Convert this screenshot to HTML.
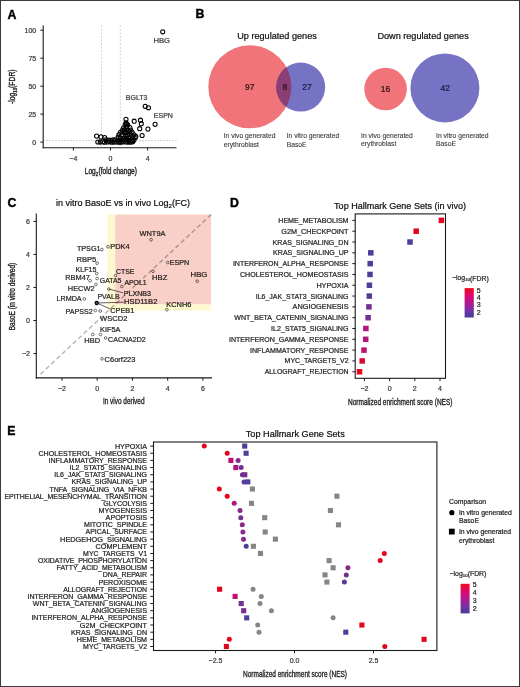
<!DOCTYPE html>
<html><head><meta charset="utf-8"><style>
html,body{margin:0;padding:0;background:#fff;}
body{width:520px;height:687px;overflow:hidden;}
svg{display:block;font-family:'Liberation Sans', sans-serif;color:#262626;}
text{stroke:currentColor;stroke-width:0.22px;}
</style></head><body>
<svg width="520" height="687" viewBox="0 0 520 687">
<rect x="0" y="0" width="520" height="687" fill="#fff"/>
<text x="7.60" y="18.50" font-size="12.3" text-anchor="start" fill="#000" color="#000" font-weight="bold" style="stroke-width:0.4px">A</text>
<text x="195.60" y="18.40" font-size="12.3" text-anchor="start" fill="#000" color="#000" font-weight="bold" style="stroke-width:0.4px">B</text>
<text x="7.40" y="206.90" font-size="12.3" text-anchor="start" fill="#000" color="#000" font-weight="bold" style="stroke-width:0.4px">C</text>
<text x="229.90" y="206.90" font-size="12.3" text-anchor="start" fill="#000" color="#000" font-weight="bold" style="stroke-width:0.4px">D</text>
<text x="7.20" y="434.90" font-size="12.3" text-anchor="start" fill="#000" color="#000" font-weight="bold" style="stroke-width:0.4px">E</text>
<line x1="101.50" y1="25.50" x2="101.50" y2="147.70" stroke="#c4c4c4" stroke-width="0.8" stroke-dasharray="1.8 1.7"/>
<line x1="120.30" y1="25.50" x2="120.30" y2="147.70" stroke="#c4c4c4" stroke-width="0.8" stroke-dasharray="1.8 1.7"/>
<line x1="43.20" y1="140.60" x2="176.50" y2="140.60" stroke="#c0c0c0" stroke-width="0.9" stroke-dasharray="1.6 1.4"/>
<circle cx="162.70" cy="31.80" r="2.05" fill="none" stroke="#000" stroke-width="1.05"/>
<circle cx="145.20" cy="106.30" r="2.05" fill="none" stroke="#000" stroke-width="1.05"/>
<circle cx="148.50" cy="107.80" r="2.05" fill="none" stroke="#000" stroke-width="1.05"/>
<circle cx="155.10" cy="124.30" r="2.05" fill="none" stroke="#000" stroke-width="1.05"/>
<circle cx="147.90" cy="129.10" r="2.05" fill="none" stroke="#000" stroke-width="1.05"/>
<circle cx="139.70" cy="128.70" r="2.05" fill="none" stroke="#000" stroke-width="1.05"/>
<circle cx="141.30" cy="123.70" r="2.05" fill="none" stroke="#000" stroke-width="1.05"/>
<circle cx="140.50" cy="120.20" r="2.05" fill="none" stroke="#000" stroke-width="1.05"/>
<circle cx="134.20" cy="121.20" r="2.05" fill="none" stroke="#000" stroke-width="1.05"/>
<circle cx="126.00" cy="119.30" r="2.05" fill="none" stroke="#000" stroke-width="1.05"/>
<circle cx="126.60" cy="124.00" r="2.05" fill="none" stroke="#000" stroke-width="1.05"/>
<circle cx="142.10" cy="135.50" r="2.05" fill="none" stroke="#000" stroke-width="1.05"/>
<circle cx="135.80" cy="136.30" r="2.05" fill="none" stroke="#000" stroke-width="1.05"/>
<circle cx="96.60" cy="136.10" r="2.05" fill="none" stroke="#000" stroke-width="1.05"/>
<circle cx="101.00" cy="136.90" r="2.05" fill="none" stroke="#000" stroke-width="1.05"/>
<circle cx="104.70" cy="137.50" r="2.05" fill="none" stroke="#000" stroke-width="1.05"/>
<circle cx="131.90" cy="141.20" r="2.05" fill="none" stroke="#000" stroke-width="1.05"/>
<circle cx="97.84" cy="142.03" r="2.05" fill="none" stroke="#000" stroke-width="1.05"/>
<circle cx="100.22" cy="142.06" r="2.05" fill="none" stroke="#000" stroke-width="1.05"/>
<circle cx="102.68" cy="141.74" r="2.05" fill="none" stroke="#000" stroke-width="1.05"/>
<circle cx="104.61" cy="142.20" r="2.05" fill="none" stroke="#000" stroke-width="1.05"/>
<circle cx="105.86" cy="139.84" r="2.05" fill="none" stroke="#000" stroke-width="1.05"/>
<circle cx="107.50" cy="141.98" r="2.05" fill="none" stroke="#000" stroke-width="1.05"/>
<circle cx="108.50" cy="139.99" r="2.05" fill="none" stroke="#000" stroke-width="1.05"/>
<circle cx="109.58" cy="141.79" r="2.05" fill="none" stroke="#000" stroke-width="1.05"/>
<circle cx="110.68" cy="140.22" r="2.05" fill="none" stroke="#000" stroke-width="1.05"/>
<circle cx="111.81" cy="142.14" r="2.05" fill="none" stroke="#000" stroke-width="1.05"/>
<circle cx="113.00" cy="139.74" r="2.05" fill="none" stroke="#000" stroke-width="1.05"/>
<circle cx="114.25" cy="142.05" r="2.05" fill="none" stroke="#000" stroke-width="1.05"/>
<circle cx="115.08" cy="139.72" r="2.05" fill="none" stroke="#000" stroke-width="1.05"/>
<circle cx="116.62" cy="141.98" r="2.05" fill="none" stroke="#000" stroke-width="1.05"/>
<circle cx="117.63" cy="140.23" r="2.05" fill="none" stroke="#000" stroke-width="1.05"/>
<circle cx="118.83" cy="142.25" r="2.05" fill="none" stroke="#000" stroke-width="1.05"/>
<circle cx="119.74" cy="140.18" r="2.05" fill="none" stroke="#000" stroke-width="1.05"/>
<circle cx="120.97" cy="142.26" r="2.05" fill="none" stroke="#000" stroke-width="1.05"/>
<circle cx="122.33" cy="139.76" r="2.05" fill="none" stroke="#000" stroke-width="1.05"/>
<circle cx="123.08" cy="141.83" r="2.05" fill="none" stroke="#000" stroke-width="1.05"/>
<circle cx="124.68" cy="139.96" r="2.05" fill="none" stroke="#000" stroke-width="1.05"/>
<circle cx="125.68" cy="141.88" r="2.05" fill="none" stroke="#000" stroke-width="1.05"/>
<circle cx="126.70" cy="139.93" r="2.05" fill="none" stroke="#000" stroke-width="1.05"/>
<circle cx="127.81" cy="142.05" r="2.05" fill="none" stroke="#000" stroke-width="1.05"/>
<circle cx="129.05" cy="140.24" r="2.05" fill="none" stroke="#000" stroke-width="1.05"/>
<circle cx="130.31" cy="142.26" r="2.05" fill="none" stroke="#000" stroke-width="1.05"/>
<circle cx="131.51" cy="140.29" r="2.05" fill="none" stroke="#000" stroke-width="1.05"/>
<circle cx="132.60" cy="141.80" r="2.05" fill="none" stroke="#000" stroke-width="1.05"/>
<circle cx="133.82" cy="140.28" r="2.05" fill="none" stroke="#000" stroke-width="1.05"/>
<circle cx="126.09" cy="122.80" r="2.05" fill="none" stroke="#000" stroke-width="1.05"/>
<circle cx="125.15" cy="124.53" r="2.05" fill="none" stroke="#000" stroke-width="1.05"/>
<circle cx="127.65" cy="124.91" r="2.05" fill="none" stroke="#000" stroke-width="1.05"/>
<circle cx="123.53" cy="127.72" r="2.05" fill="none" stroke="#000" stroke-width="1.05"/>
<circle cx="126.24" cy="127.30" r="2.05" fill="none" stroke="#000" stroke-width="1.05"/>
<circle cx="129.88" cy="127.52" r="2.05" fill="none" stroke="#000" stroke-width="1.05"/>
<circle cx="122.36" cy="130.24" r="2.05" fill="none" stroke="#000" stroke-width="1.05"/>
<circle cx="124.57" cy="129.56" r="2.05" fill="none" stroke="#000" stroke-width="1.05"/>
<circle cx="128.13" cy="130.46" r="2.05" fill="none" stroke="#000" stroke-width="1.05"/>
<circle cx="130.60" cy="129.96" r="2.05" fill="none" stroke="#000" stroke-width="1.05"/>
<circle cx="120.51" cy="132.22" r="2.05" fill="none" stroke="#000" stroke-width="1.05"/>
<circle cx="123.90" cy="132.24" r="2.05" fill="none" stroke="#000" stroke-width="1.05"/>
<circle cx="126.19" cy="132.44" r="2.05" fill="none" stroke="#000" stroke-width="1.05"/>
<circle cx="129.60" cy="132.10" r="2.05" fill="none" stroke="#000" stroke-width="1.05"/>
<circle cx="132.12" cy="132.33" r="2.05" fill="none" stroke="#000" stroke-width="1.05"/>
<circle cx="118.98" cy="134.62" r="2.05" fill="none" stroke="#000" stroke-width="1.05"/>
<circle cx="122.18" cy="134.69" r="2.05" fill="none" stroke="#000" stroke-width="1.05"/>
<circle cx="125.36" cy="135.34" r="2.05" fill="none" stroke="#000" stroke-width="1.05"/>
<circle cx="127.63" cy="134.78" r="2.05" fill="none" stroke="#000" stroke-width="1.05"/>
<circle cx="131.16" cy="135.14" r="2.05" fill="none" stroke="#000" stroke-width="1.05"/>
<circle cx="134.06" cy="134.85" r="2.05" fill="none" stroke="#000" stroke-width="1.05"/>
<circle cx="118.22" cy="137.16" r="2.05" fill="none" stroke="#000" stroke-width="1.05"/>
<circle cx="120.20" cy="137.94" r="2.05" fill="none" stroke="#000" stroke-width="1.05"/>
<circle cx="123.98" cy="137.99" r="2.05" fill="none" stroke="#000" stroke-width="1.05"/>
<circle cx="126.43" cy="137.95" r="2.05" fill="none" stroke="#000" stroke-width="1.05"/>
<circle cx="129.83" cy="137.22" r="2.05" fill="none" stroke="#000" stroke-width="1.05"/>
<circle cx="132.55" cy="137.84" r="2.05" fill="none" stroke="#000" stroke-width="1.05"/>
<circle cx="135.36" cy="137.52" r="2.05" fill="none" stroke="#000" stroke-width="1.05"/>
<line x1="43.20" y1="25.50" x2="43.20" y2="148.25" stroke="#1a1a1a" stroke-width="1.1"/>
<line x1="42.65" y1="147.70" x2="176.50" y2="147.70" stroke="#1a1a1a" stroke-width="1.1"/>
<line x1="40.30" y1="142.10" x2="43.20" y2="142.10" stroke="#1a1a1a" stroke-width="1.0"/>
<text x="36.20" y="142.10" font-size="7" text-anchor="end" fill="#3a3a3a" color="#3a3a3a" dominant-baseline="central">0</text>
<line x1="40.30" y1="114.12" x2="43.20" y2="114.12" stroke="#1a1a1a" stroke-width="1.0"/>
<text x="36.20" y="114.12" font-size="7" text-anchor="end" fill="#3a3a3a" color="#3a3a3a" dominant-baseline="central">25</text>
<line x1="40.30" y1="86.15" x2="43.20" y2="86.15" stroke="#1a1a1a" stroke-width="1.0"/>
<text x="36.20" y="86.15" font-size="7" text-anchor="end" fill="#3a3a3a" color="#3a3a3a" dominant-baseline="central">50</text>
<line x1="40.30" y1="58.17" x2="43.20" y2="58.17" stroke="#1a1a1a" stroke-width="1.0"/>
<text x="36.20" y="58.17" font-size="7" text-anchor="end" fill="#3a3a3a" color="#3a3a3a" dominant-baseline="central">75</text>
<line x1="40.30" y1="30.20" x2="43.20" y2="30.20" stroke="#1a1a1a" stroke-width="1.0"/>
<text x="36.20" y="30.20" font-size="7" text-anchor="end" fill="#3a3a3a" color="#3a3a3a" dominant-baseline="central">100</text>
<line x1="73.35" y1="147.70" x2="73.35" y2="150.50" stroke="#1a1a1a" stroke-width="1.0"/>
<text x="73.35" y="158.00" font-size="7" text-anchor="middle" fill="#3a3a3a" color="#3a3a3a" dominant-baseline="central">−4</text>
<line x1="110.50" y1="147.70" x2="110.50" y2="150.50" stroke="#1a1a1a" stroke-width="1.0"/>
<text x="110.50" y="158.00" font-size="7" text-anchor="middle" fill="#3a3a3a" color="#3a3a3a" dominant-baseline="central">0</text>
<line x1="147.65" y1="147.70" x2="147.65" y2="150.50" stroke="#1a1a1a" stroke-width="1.0"/>
<text x="147.65" y="158.00" font-size="7" text-anchor="middle" fill="#3a3a3a" color="#3a3a3a" dominant-baseline="central">4</text>
<text x="153.40" y="40.20" font-size="7.4" text-anchor="start" fill="#3a3a3a" color="#3a3a3a" dominant-baseline="central" textLength="16.50" lengthAdjust="spacingAndGlyphs">HBG</text>
<text x="125.80" y="97.40" font-size="7" text-anchor="start" fill="#3a3a3a" color="#3a3a3a" dominant-baseline="central">BGLT3</text>
<text x="153.80" y="115.70" font-size="7" text-anchor="start" fill="#3a3a3a" color="#3a3a3a" dominant-baseline="central">ESPN</text>
<g transform="translate(84.8,174.1) scale(0.7476,1)"><text x="0" y="0" font-size="8.8" fill="#262626" style="stroke-width:0.4px">Log<tspan font-size="5.6" dy="2.0">2</tspan><tspan dy="-2.0" dx="0.7">(fold change)</tspan></text></g>
<g transform="translate(14.9,104.0) rotate(-90) scale(0.7715,1)"><text x="0" y="0" font-size="8.8" fill="#262626" style="stroke-width:0.4px">-log<tspan font-size="5.6" dy="2.0">10</tspan><tspan dy="-2.0">(FDR)</tspan></text></g>
<text x="237.20" y="38.60" font-size="9.15" text-anchor="start" fill="#111" color="#111">Up regulated genes</text>
<text x="377.40" y="38.80" font-size="9.13" text-anchor="start" fill="#111" color="#111">Down regulated genes</text>
<circle cx="249.8" cy="86.8" r="41.5" fill="#f07479"/>
<circle cx="300.7" cy="87.1" r="24.5" fill="#7672c4"/>
<defs><clipPath id="cpb"><circle cx="300.7" cy="87.1" r="24.5"/></clipPath></defs>
<circle cx="249.8" cy="86.8" r="41.5" fill="#8a3e74" clip-path="url(#cpb)"/>
<circle cx="385.6" cy="89.0" r="21.3" fill="#f07479"/>
<circle cx="444.9" cy="87.9" r="34.5" fill="#7672c4"/>
<text x="249.80" y="87.10" font-size="8.5" text-anchor="middle" fill="#2a1216" color="#2a1216" dominant-baseline="central">97</text>
<text x="284.80" y="87.00" font-size="8.5" text-anchor="middle" fill="#2a0f22" color="#2a0f22" dominant-baseline="central">8</text>
<text x="306.90" y="87.00" font-size="8.5" text-anchor="middle" fill="#1c1c46" color="#1c1c46" dominant-baseline="central">27</text>
<text x="385.50" y="88.50" font-size="8.5" text-anchor="middle" fill="#2a1216" color="#2a1216" dominant-baseline="central">16</text>
<text x="445.20" y="88.00" font-size="8.5" text-anchor="middle" fill="#1c1c46" color="#1c1c46" dominant-baseline="central">42</text>
<text x="223.70" y="138.30" font-size="6.75" text-anchor="start" fill="#3a3a3a" color="#3a3a3a" style="stroke-width:0.1px">In vivo generated</text>
<text x="223.70" y="147.30" font-size="6.75" text-anchor="start" fill="#3a3a3a" color="#3a3a3a" style="stroke-width:0.1px">erythroblast</text>
<text x="286.70" y="138.30" font-size="6.75" text-anchor="start" fill="#3a3a3a" color="#3a3a3a" style="stroke-width:0.1px">In vitro generated</text>
<text x="286.70" y="147.30" font-size="6.75" text-anchor="start" fill="#3a3a3a" color="#3a3a3a" style="stroke-width:0.1px">BasoE</text>
<text x="361.00" y="137.80" font-size="6.75" text-anchor="start" fill="#3a3a3a" color="#3a3a3a" style="stroke-width:0.1px">In vivo generated</text>
<text x="361.00" y="146.00" font-size="6.75" text-anchor="start" fill="#3a3a3a" color="#3a3a3a" style="stroke-width:0.1px">erythroblast</text>
<text x="436.00" y="137.80" font-size="6.75" text-anchor="start" fill="#3a3a3a" color="#3a3a3a" style="stroke-width:0.1px">In vitro generated</text>
<text x="436.00" y="146.00" font-size="6.75" text-anchor="start" fill="#3a3a3a" color="#3a3a3a" style="stroke-width:0.1px">BasoE</text>
<text x="56.00" y="206.30" font-size="9" text-anchor="start" fill="#111" color="#111">in vitro BasoE vs in vivo Log<tspan font-size="6.2" dy="2">2</tspan><tspan dy="-2">(FC)</tspan></text>
<line x1="40.40" y1="374.20" x2="212.30" y2="213.50" stroke="#b8b8b8" stroke-width="1.5" stroke-dasharray="4.6 2.8"/>
<circle cx="108.00" cy="246.80" r="1.35" fill="none" stroke="#3a3a3a" stroke-width="0.7"/>
<circle cx="101.90" cy="249.60" r="1.35" fill="none" stroke="#3a3a3a" stroke-width="0.7"/>
<circle cx="97.10" cy="263.20" r="1.35" fill="none" stroke="#3a3a3a" stroke-width="0.7"/>
<circle cx="96.70" cy="273.60" r="1.35" fill="none" stroke="#3a3a3a" stroke-width="0.7"/>
<circle cx="90.20" cy="280.70" r="1.35" fill="none" stroke="#3a3a3a" stroke-width="0.7"/>
<circle cx="97.10" cy="278.50" r="1.35" fill="none" stroke="#3a3a3a" stroke-width="0.7"/>
<circle cx="95.90" cy="284.50" r="1.35" fill="none" stroke="#3a3a3a" stroke-width="0.7"/>
<circle cx="84.30" cy="298.90" r="1.35" fill="none" stroke="#3a3a3a" stroke-width="0.7"/>
<circle cx="108.80" cy="289.10" r="1.35" fill="none" stroke="#3a3a3a" stroke-width="0.7"/>
<circle cx="95.30" cy="310.50" r="1.35" fill="none" stroke="#3a3a3a" stroke-width="0.7"/>
<circle cx="100.20" cy="311.00" r="1.35" fill="none" stroke="#3a3a3a" stroke-width="0.7"/>
<circle cx="92.80" cy="334.50" r="1.35" fill="none" stroke="#3a3a3a" stroke-width="0.7"/>
<circle cx="100.40" cy="334.50" r="1.35" fill="none" stroke="#3a3a3a" stroke-width="0.7"/>
<circle cx="105.70" cy="338.00" r="1.35" fill="none" stroke="#3a3a3a" stroke-width="0.7"/>
<circle cx="102.00" cy="358.80" r="1.35" fill="none" stroke="#3a3a3a" stroke-width="0.7"/>
<circle cx="115.60" cy="275.60" r="1.35" fill="none" stroke="#3a3a3a" stroke-width="0.7"/>
<circle cx="121.90" cy="286.50" r="1.35" fill="none" stroke="#3a3a3a" stroke-width="0.7"/>
<circle cx="151.10" cy="239.70" r="1.35" fill="none" stroke="#3a3a3a" stroke-width="0.7"/>
<circle cx="153.00" cy="271.30" r="1.35" fill="none" stroke="#3a3a3a" stroke-width="0.7"/>
<circle cx="167.70" cy="262.50" r="1.35" fill="none" stroke="#3a3a3a" stroke-width="0.7"/>
<circle cx="197.20" cy="281.20" r="1.35" fill="none" stroke="#3a3a3a" stroke-width="0.7"/>
<circle cx="166.90" cy="309.70" r="1.35" fill="none" stroke="#3a3a3a" stroke-width="0.7"/>
<circle cx="96.70" cy="303.00" r="1.60" fill="#666" stroke="#000" stroke-width="1.2"/>
<line x1="108.80" y1="289.10" x2="123.10" y2="292.80" stroke="#222" stroke-width="0.7"/>
<line x1="96.70" y1="303.00" x2="124.00" y2="302.20" stroke="#222" stroke-width="0.7"/>
<line x1="96.70" y1="303.00" x2="110.50" y2="309.00" stroke="#222" stroke-width="0.7"/>
<text x="76.90" y="248.70" font-size="7.1" text-anchor="start" fill="#262626" color="#262626" dominant-baseline="central" textLength="23.70" lengthAdjust="spacingAndGlyphs">TPSG1</text>
<text x="110.20" y="247.30" font-size="7.1" text-anchor="start" fill="#262626" color="#262626" dominant-baseline="central" textLength="19.50" lengthAdjust="spacingAndGlyphs">PDK4</text>
<text x="76.40" y="260.30" font-size="7.1" text-anchor="start" fill="#262626" color="#262626" dominant-baseline="central" textLength="19.90" lengthAdjust="spacingAndGlyphs">RBP5</text>
<text x="75.60" y="270.00" font-size="7.1" text-anchor="start" fill="#262626" color="#262626" dominant-baseline="central" textLength="20.70" lengthAdjust="spacingAndGlyphs">KLF15</text>
<text x="65.20" y="277.50" font-size="7.1" text-anchor="start" fill="#262626" color="#262626" dominant-baseline="central" textLength="24.70" lengthAdjust="spacingAndGlyphs">RBM47</text>
<text x="99.80" y="281.00" font-size="7.1" text-anchor="start" fill="#262626" color="#262626" dominant-baseline="central" textLength="21.60" lengthAdjust="spacingAndGlyphs">GATA5</text>
<text x="67.80" y="289.00" font-size="7.1" text-anchor="start" fill="#262626" color="#262626" dominant-baseline="central" textLength="26.70" lengthAdjust="spacingAndGlyphs">HECW2</text>
<text x="56.50" y="299.40" font-size="7.1" text-anchor="start" fill="#262626" color="#262626" dominant-baseline="central" textLength="25.10" lengthAdjust="spacingAndGlyphs">LRMDA</text>
<text x="97.40" y="297.10" font-size="7.1" text-anchor="start" fill="#262626" color="#262626" dominant-baseline="central" textLength="22.20" lengthAdjust="spacingAndGlyphs">PVALB</text>
<text x="123.80" y="293.60" font-size="7.1" text-anchor="start" fill="#262626" color="#262626" dominant-baseline="central" textLength="27.20" lengthAdjust="spacingAndGlyphs">PLXNB3</text>
<text x="124.00" y="302.00" font-size="7.1" text-anchor="start" fill="#262626" color="#262626" dominant-baseline="central" textLength="33.50" lengthAdjust="spacingAndGlyphs">HSD11B2</text>
<text x="110.30" y="310.50" font-size="7.1" text-anchor="start" fill="#262626" color="#262626" dominant-baseline="central" textLength="24.00" lengthAdjust="spacingAndGlyphs">CPEB1</text>
<text x="65.40" y="311.70" font-size="7.1" text-anchor="start" fill="#262626" color="#262626" dominant-baseline="central" textLength="27.30" lengthAdjust="spacingAndGlyphs">PAPSS2</text>
<text x="100.00" y="318.70" font-size="7.1" text-anchor="start" fill="#262626" color="#262626" dominant-baseline="central" textLength="27.40" lengthAdjust="spacingAndGlyphs">WSCD2</text>
<text x="100.00" y="330.20" font-size="7.1" text-anchor="start" fill="#262626" color="#262626" dominant-baseline="central" textLength="20.40" lengthAdjust="spacingAndGlyphs">KIF5A</text>
<text x="84.30" y="340.50" font-size="7.1" text-anchor="start" fill="#262626" color="#262626" dominant-baseline="central" textLength="15.80" lengthAdjust="spacingAndGlyphs">HBD</text>
<text x="108.10" y="339.70" font-size="7.1" text-anchor="start" fill="#262626" color="#262626" dominant-baseline="central" textLength="37.70" lengthAdjust="spacingAndGlyphs">CACNA2D2</text>
<text x="104.60" y="359.90" font-size="7.1" text-anchor="start" fill="#262626" color="#262626" dominant-baseline="central" textLength="30.80" lengthAdjust="spacingAndGlyphs">C6orf223</text>
<text x="116.10" y="272.00" font-size="7.1" text-anchor="start" fill="#262626" color="#262626" dominant-baseline="central" textLength="18.30" lengthAdjust="spacingAndGlyphs">CTSE</text>
<text x="124.40" y="283.00" font-size="7.1" text-anchor="start" fill="#262626" color="#262626" dominant-baseline="central" textLength="22.30" lengthAdjust="spacingAndGlyphs">APOL1</text>
<text x="139.60" y="234.20" font-size="7.1" text-anchor="start" fill="#262626" color="#262626" dominant-baseline="central" textLength="25.80" lengthAdjust="spacingAndGlyphs">WNT9A</text>
<text x="152.10" y="277.80" font-size="7.1" text-anchor="start" fill="#262626" color="#262626" dominant-baseline="central" textLength="15.20" lengthAdjust="spacingAndGlyphs">HBZ</text>
<text x="169.80" y="263.00" font-size="7.1" text-anchor="start" fill="#262626" color="#262626" dominant-baseline="central" textLength="19.40" lengthAdjust="spacingAndGlyphs">ESPN</text>
<text x="190.50" y="275.20" font-size="7.1" text-anchor="start" fill="#262626" color="#262626" dominant-baseline="central" textLength="16.90" lengthAdjust="spacingAndGlyphs">HBG</text>
<text x="166.30" y="305.00" font-size="7.1" text-anchor="start" fill="#262626" color="#262626" dominant-baseline="central" textLength="25.10" lengthAdjust="spacingAndGlyphs">KCNH6</text>
<g style="mix-blend-mode:multiply">
<rect x="107.40" y="214.60" width="103.60" height="96.00" fill="#fdf8d0"/>
<rect x="115.30" y="214.60" width="95.70" height="89.60" fill="#f9d0c8"/>
</g>
<line x1="36.30" y1="213.60" x2="36.30" y2="378.45" stroke="#1a1a1a" stroke-width="1.1"/>
<line x1="35.75" y1="377.90" x2="212.00" y2="377.90" stroke="#1a1a1a" stroke-width="1.1"/>
<line x1="33.40" y1="353.54" x2="36.30" y2="353.54" stroke="#1a1a1a" stroke-width="1.0"/>
<text x="30.00" y="353.54" font-size="7" text-anchor="end" fill="#3a3a3a" color="#3a3a3a" dominant-baseline="central">−2</text>
<line x1="61.96" y1="377.90" x2="61.96" y2="380.70" stroke="#1a1a1a" stroke-width="1.0"/>
<text x="61.96" y="388.80" font-size="7" text-anchor="middle" fill="#3a3a3a" color="#3a3a3a" dominant-baseline="central">−2</text>
<line x1="33.40" y1="320.50" x2="36.30" y2="320.50" stroke="#1a1a1a" stroke-width="1.0"/>
<text x="30.00" y="320.50" font-size="7" text-anchor="end" fill="#3a3a3a" color="#3a3a3a" dominant-baseline="central">0</text>
<line x1="97.20" y1="377.90" x2="97.20" y2="380.70" stroke="#1a1a1a" stroke-width="1.0"/>
<text x="97.20" y="388.80" font-size="7" text-anchor="middle" fill="#3a3a3a" color="#3a3a3a" dominant-baseline="central">0</text>
<line x1="33.40" y1="287.46" x2="36.30" y2="287.46" stroke="#1a1a1a" stroke-width="1.0"/>
<text x="30.00" y="287.46" font-size="7" text-anchor="end" fill="#3a3a3a" color="#3a3a3a" dominant-baseline="central">2</text>
<line x1="132.44" y1="377.90" x2="132.44" y2="380.70" stroke="#1a1a1a" stroke-width="1.0"/>
<text x="132.44" y="388.80" font-size="7" text-anchor="middle" fill="#3a3a3a" color="#3a3a3a" dominant-baseline="central">2</text>
<line x1="33.40" y1="254.42" x2="36.30" y2="254.42" stroke="#1a1a1a" stroke-width="1.0"/>
<text x="30.00" y="254.42" font-size="7" text-anchor="end" fill="#3a3a3a" color="#3a3a3a" dominant-baseline="central">4</text>
<line x1="167.68" y1="377.90" x2="167.68" y2="380.70" stroke="#1a1a1a" stroke-width="1.0"/>
<text x="167.68" y="388.80" font-size="7" text-anchor="middle" fill="#3a3a3a" color="#3a3a3a" dominant-baseline="central">4</text>
<line x1="33.40" y1="221.38" x2="36.30" y2="221.38" stroke="#1a1a1a" stroke-width="1.0"/>
<text x="30.00" y="221.38" font-size="7" text-anchor="end" fill="#3a3a3a" color="#3a3a3a" dominant-baseline="central">6</text>
<line x1="202.92" y1="377.90" x2="202.92" y2="380.70" stroke="#1a1a1a" stroke-width="1.0"/>
<text x="202.92" y="388.80" font-size="7" text-anchor="middle" fill="#3a3a3a" color="#3a3a3a" dominant-baseline="central">6</text>
<text x="102.90" y="404.30" font-size="8.8" text-anchor="start" fill="#262626" color="#262626" textLength="41.60" lengthAdjust="spacingAndGlyphs" style="stroke-width:0.35px">In vivo derived</text>
<g transform="translate(15.2,330.2) rotate(-90)"><text x="0" y="0" font-size="8.8" fill="#262626" style="stroke-width:0.35px" textLength="67.4" lengthAdjust="spacingAndGlyphs">BasoE (in vitro derived)</text></g>
<text x="334.10" y="208.80" font-size="9.04" text-anchor="start" fill="#111" color="#111">Top Hallmark Gene Sets (in vivo)</text>
<text x="348.50" y="220.40" font-size="6.9" text-anchor="end" fill="#262626" color="#262626" dominant-baseline="central" textLength="70.20" lengthAdjust="spacingAndGlyphs">HEME_METABOLISM</text>
<line x1="352.30" y1="220.40" x2="355.20" y2="220.40" stroke="#1a1a1a" stroke-width="1.0"/>
<rect x="438.65" y="217.65" width="5.50" height="5.50" fill="#e3051b"/>
<text x="348.50" y="231.21" font-size="6.9" text-anchor="end" fill="#262626" color="#262626" dominant-baseline="central" textLength="67.20" lengthAdjust="spacingAndGlyphs">G2M_CHECKPOINT</text>
<line x1="352.30" y1="231.21" x2="355.20" y2="231.21" stroke="#1a1a1a" stroke-width="1.0"/>
<rect x="413.45" y="228.46" width="5.50" height="5.50" fill="#e3051b"/>
<text x="348.50" y="242.02" font-size="6.9" text-anchor="end" fill="#262626" color="#262626" dominant-baseline="central" textLength="75.90" lengthAdjust="spacingAndGlyphs">KRAS_SIGNALING_DN</text>
<line x1="352.30" y1="242.02" x2="355.20" y2="242.02" stroke="#1a1a1a" stroke-width="1.0"/>
<rect x="407.25" y="239.27" width="5.50" height="5.50" fill="#4e3e98"/>
<text x="348.50" y="252.83" font-size="6.9" text-anchor="end" fill="#262626" color="#262626" dominant-baseline="central" textLength="75.40" lengthAdjust="spacingAndGlyphs">KRAS_SIGNALING_UP</text>
<line x1="352.30" y1="252.83" x2="355.20" y2="252.83" stroke="#1a1a1a" stroke-width="1.0"/>
<rect x="368.05" y="250.08" width="5.50" height="5.50" fill="#4e3e98"/>
<text x="348.50" y="263.64" font-size="6.9" text-anchor="end" fill="#262626" color="#262626" dominant-baseline="central" textLength="115.60" lengthAdjust="spacingAndGlyphs">INTERFERON_ALPHA_RESPONSE</text>
<line x1="352.30" y1="263.64" x2="355.20" y2="263.64" stroke="#1a1a1a" stroke-width="1.0"/>
<rect x="367.45" y="260.89" width="5.50" height="5.50" fill="#4e3e98"/>
<text x="348.50" y="274.45" font-size="6.9" text-anchor="end" fill="#262626" color="#262626" dominant-baseline="central" textLength="108.60" lengthAdjust="spacingAndGlyphs">CHOLESTEROL_HOMEOSTASIS</text>
<line x1="352.30" y1="274.45" x2="355.20" y2="274.45" stroke="#1a1a1a" stroke-width="1.0"/>
<rect x="367.25" y="271.70" width="5.50" height="5.50" fill="#4e3e98"/>
<text x="348.50" y="285.26" font-size="6.9" text-anchor="end" fill="#262626" color="#262626" dominant-baseline="central" textLength="32.10" lengthAdjust="spacingAndGlyphs">HYPOXIA</text>
<line x1="352.30" y1="285.26" x2="355.20" y2="285.26" stroke="#1a1a1a" stroke-width="1.0"/>
<rect x="366.65" y="282.51" width="5.50" height="5.50" fill="#4e3e98"/>
<text x="348.50" y="296.07" font-size="6.9" text-anchor="end" fill="#262626" color="#262626" dominant-baseline="central" textLength="92.70" lengthAdjust="spacingAndGlyphs">IL6_JAK_STAT3_SIGNALING</text>
<line x1="352.30" y1="296.07" x2="355.20" y2="296.07" stroke="#1a1a1a" stroke-width="1.0"/>
<rect x="366.55" y="293.32" width="5.50" height="5.50" fill="#5a3996"/>
<text x="348.50" y="306.88" font-size="6.9" text-anchor="end" fill="#262626" color="#262626" dominant-baseline="central" textLength="55.90" lengthAdjust="spacingAndGlyphs">ANGIOGENESIS</text>
<line x1="352.30" y1="306.88" x2="355.20" y2="306.88" stroke="#1a1a1a" stroke-width="1.0"/>
<rect x="366.15" y="304.13" width="5.50" height="5.50" fill="#74308f"/>
<text x="348.50" y="317.69" font-size="6.9" text-anchor="end" fill="#262626" color="#262626" dominant-baseline="central" textLength="114.20" lengthAdjust="spacingAndGlyphs">WNT_BETA_CATENIN_SIGNALING</text>
<line x1="352.30" y1="317.69" x2="355.20" y2="317.69" stroke="#1a1a1a" stroke-width="1.0"/>
<rect x="365.35" y="314.94" width="5.50" height="5.50" fill="#74308f"/>
<text x="348.50" y="328.50" font-size="6.9" text-anchor="end" fill="#262626" color="#262626" dominant-baseline="central" textLength="77.40" lengthAdjust="spacingAndGlyphs">IL2_STAT5_SIGNALING</text>
<line x1="352.30" y1="328.50" x2="355.20" y2="328.50" stroke="#1a1a1a" stroke-width="1.0"/>
<rect x="363.15" y="325.75" width="5.50" height="5.50" fill="#b0167f"/>
<text x="348.50" y="339.31" font-size="6.9" text-anchor="end" fill="#262626" color="#262626" dominant-baseline="central" textLength="119.50" lengthAdjust="spacingAndGlyphs">INTERFERON_GAMMA_RESPONSE</text>
<line x1="352.30" y1="339.31" x2="355.20" y2="339.31" stroke="#1a1a1a" stroke-width="1.0"/>
<rect x="362.95" y="336.56" width="5.50" height="5.50" fill="#b0167f"/>
<text x="348.50" y="350.12" font-size="6.9" text-anchor="end" fill="#262626" color="#262626" dominant-baseline="central" textLength="98.50" lengthAdjust="spacingAndGlyphs">INFLAMMATORY_RESPONSE</text>
<line x1="352.30" y1="350.12" x2="355.20" y2="350.12" stroke="#1a1a1a" stroke-width="1.0"/>
<rect x="361.25" y="347.37" width="5.50" height="5.50" fill="#bf106f"/>
<text x="348.50" y="360.93" font-size="6.9" text-anchor="end" fill="#262626" color="#262626" dominant-baseline="central" textLength="63.90" lengthAdjust="spacingAndGlyphs">MYC_TARGETS_V2</text>
<line x1="352.30" y1="360.93" x2="355.20" y2="360.93" stroke="#1a1a1a" stroke-width="1.0"/>
<rect x="359.45" y="358.18" width="5.50" height="5.50" fill="#d80a34"/>
<text x="348.50" y="371.74" font-size="6.9" text-anchor="end" fill="#262626" color="#262626" dominant-baseline="central" textLength="83.80" lengthAdjust="spacingAndGlyphs">ALLOGRAFT_REJECTION</text>
<line x1="352.30" y1="371.74" x2="355.20" y2="371.74" stroke="#1a1a1a" stroke-width="1.0"/>
<rect x="356.75" y="368.99" width="5.50" height="5.50" fill="#e3051b"/>
<rect x="355.20" y="213.90" width="90.30" height="164.40" fill="none" stroke="#1a1a1a" stroke-width="1.1"/>
<line x1="364.40" y1="378.30" x2="364.40" y2="381.10" stroke="#1a1a1a" stroke-width="1.0"/>
<text x="364.40" y="388.70" font-size="7" text-anchor="middle" fill="#3a3a3a" color="#3a3a3a" dominant-baseline="central">−2</text>
<line x1="389.60" y1="378.30" x2="389.60" y2="381.10" stroke="#1a1a1a" stroke-width="1.0"/>
<text x="389.60" y="388.70" font-size="7" text-anchor="middle" fill="#3a3a3a" color="#3a3a3a" dominant-baseline="central">0</text>
<line x1="414.80" y1="378.30" x2="414.80" y2="381.10" stroke="#1a1a1a" stroke-width="1.0"/>
<text x="414.80" y="388.70" font-size="7" text-anchor="middle" fill="#3a3a3a" color="#3a3a3a" dominant-baseline="central">2</text>
<line x1="440.00" y1="378.30" x2="440.00" y2="381.10" stroke="#1a1a1a" stroke-width="1.0"/>
<text x="440.00" y="388.70" font-size="7" text-anchor="middle" fill="#3a3a3a" color="#3a3a3a" dominant-baseline="central">4</text>
<text x="348.00" y="405.00" font-size="8.8" text-anchor="start" fill="#262626" color="#262626" textLength="104.50" lengthAdjust="spacingAndGlyphs" style="stroke-width:0.35px">Normalized enrichment score (NES)</text>
<text x="451.90" y="277.60" font-size="6.9" fill="#262626" dominant-baseline="central">−log<tspan font-size="4.4" dy="1.8">10</tspan><tspan dy="-1.8">(FDR)</tspan></text>
<defs><linearGradient id="g464288" x1="0" y1="0" x2="0" y2="1"><stop offset="0" stop-color="#ee0a1e"/><stop offset="0.28" stop-color="#dc0874"/><stop offset="0.55" stop-color="#a81d93"/><stop offset="0.8" stop-color="#6b35a5"/><stop offset="1" stop-color="#463c95"/></linearGradient></defs>
<rect x="464.60" y="288.10" width="9.20" height="29.40" fill="url(#g464288)"/>
<text x="476.80" y="290.20" font-size="7" text-anchor="start" fill="#262626" color="#262626" dominant-baseline="central">5</text>
<text x="476.80" y="297.30" font-size="7" text-anchor="start" fill="#262626" color="#262626" dominant-baseline="central">4</text>
<text x="476.80" y="304.80" font-size="7" text-anchor="start" fill="#262626" color="#262626" dominant-baseline="central">3</text>
<text x="476.80" y="312.30" font-size="7" text-anchor="start" fill="#262626" color="#262626" dominant-baseline="central">2</text>
<text x="245.80" y="433.50" font-size="9.15" text-anchor="start" fill="#111" color="#111" dominant-baseline="central">Top Hallmark Gene Sets</text>
<text x="147.00" y="446.10" font-size="6.9" text-anchor="end" fill="#262626" color="#262626" dominant-baseline="central" textLength="32.10" lengthAdjust="spacingAndGlyphs">HYPOXIA</text>
<line x1="150.30" y1="446.10" x2="153.50" y2="446.10" stroke="#1a1a1a" stroke-width="1.0"/>
<circle cx="204.30" cy="446.10" r="2.50" fill="#e3051b" stroke="none" stroke-width="1"/>
<rect x="242.15" y="443.55" width="5.10" height="5.10" fill="#4e3e98"/>
<text x="147.00" y="453.26" font-size="6.9" text-anchor="end" fill="#262626" color="#262626" dominant-baseline="central" textLength="108.60" lengthAdjust="spacingAndGlyphs">CHOLESTEROL_HOMEOSTASIS</text>
<line x1="150.30" y1="453.26" x2="153.50" y2="453.26" stroke="#1a1a1a" stroke-width="1.0"/>
<circle cx="227.20" cy="453.26" r="2.50" fill="#e3051b" stroke="none" stroke-width="1"/>
<rect x="243.55" y="450.71" width="5.10" height="5.10" fill="#4e3e98"/>
<text x="147.00" y="460.41" font-size="6.9" text-anchor="end" fill="#262626" color="#262626" dominant-baseline="central" textLength="98.50" lengthAdjust="spacingAndGlyphs">INFLAMMATORY_RESPONSE</text>
<line x1="150.30" y1="460.41" x2="153.50" y2="460.41" stroke="#1a1a1a" stroke-width="1.0"/>
<rect x="228.35" y="457.86" width="5.10" height="5.10" fill="#bf106f"/>
<circle cx="238.10" cy="460.41" r="2.50" fill="#8a278b" stroke="none" stroke-width="1"/>
<text x="147.00" y="467.57" font-size="6.9" text-anchor="end" fill="#262626" color="#262626" dominant-baseline="central" textLength="77.40" lengthAdjust="spacingAndGlyphs">IL2_STAT5_SIGNALING</text>
<line x1="150.30" y1="467.57" x2="153.50" y2="467.57" stroke="#1a1a1a" stroke-width="1.0"/>
<rect x="233.25" y="465.02" width="5.10" height="5.10" fill="#b0167f"/>
<circle cx="241.20" cy="467.57" r="2.50" fill="#74308f" stroke="none" stroke-width="1"/>
<text x="147.00" y="474.73" font-size="6.9" text-anchor="end" fill="#262626" color="#262626" dominant-baseline="central" textLength="92.70" lengthAdjust="spacingAndGlyphs">IL6_JAK_STAT3_SIGNALING</text>
<line x1="150.30" y1="474.73" x2="153.50" y2="474.73" stroke="#1a1a1a" stroke-width="1.0"/>
<circle cx="242.40" cy="474.73" r="2.50" fill="#74308f" stroke="none" stroke-width="1"/>
<rect x="242.25" y="472.18" width="5.10" height="5.10" fill="#74308f"/>
<text x="147.00" y="481.88" font-size="6.9" text-anchor="end" fill="#262626" color="#262626" dominant-baseline="central" textLength="75.40" lengthAdjust="spacingAndGlyphs">KRAS_SIGNALING_UP</text>
<line x1="150.30" y1="481.88" x2="153.50" y2="481.88" stroke="#1a1a1a" stroke-width="1.0"/>
<circle cx="244.00" cy="481.88" r="2.50" fill="#5a3996" stroke="none" stroke-width="1"/>
<rect x="245.25" y="479.33" width="5.10" height="5.10" fill="#4e3e98"/>
<text x="147.00" y="489.04" font-size="6.9" text-anchor="end" fill="#262626" color="#262626" dominant-baseline="central" textLength="97.60" lengthAdjust="spacingAndGlyphs">TNFA_SIGNALING_VIA_NFKB</text>
<line x1="150.30" y1="489.04" x2="153.50" y2="489.04" stroke="#1a1a1a" stroke-width="1.0"/>
<circle cx="219.30" cy="489.04" r="2.50" fill="#e3051b" stroke="none" stroke-width="1"/>
<rect x="249.85" y="486.49" width="5.10" height="5.10" fill="#858585"/>
<text x="147.00" y="496.20" font-size="6.9" text-anchor="end" fill="#262626" color="#262626" dominant-baseline="central" textLength="142.60" lengthAdjust="spacingAndGlyphs">EPITHELIAL_MESENCHYMAL_TRANSITION</text>
<line x1="150.30" y1="496.20" x2="153.50" y2="496.20" stroke="#1a1a1a" stroke-width="1.0"/>
<circle cx="227.20" cy="496.20" r="2.50" fill="#e3051b" stroke="none" stroke-width="1"/>
<rect x="334.35" y="493.65" width="5.10" height="5.10" fill="#858585"/>
<text x="147.00" y="503.36" font-size="6.9" text-anchor="end" fill="#262626" color="#262626" dominant-baseline="central" textLength="43.70" lengthAdjust="spacingAndGlyphs">GLYCOLYSIS</text>
<line x1="150.30" y1="503.36" x2="153.50" y2="503.36" stroke="#1a1a1a" stroke-width="1.0"/>
<circle cx="234.20" cy="503.36" r="2.50" fill="#b0167f" stroke="none" stroke-width="1"/>
<rect x="248.95" y="500.81" width="5.10" height="5.10" fill="#858585"/>
<text x="147.00" y="510.51" font-size="6.9" text-anchor="end" fill="#262626" color="#262626" dominant-baseline="central" textLength="48.60" lengthAdjust="spacingAndGlyphs">MYOGENESIS</text>
<line x1="150.30" y1="510.51" x2="153.50" y2="510.51" stroke="#1a1a1a" stroke-width="1.0"/>
<circle cx="240.00" cy="510.51" r="2.50" fill="#8a278b" stroke="none" stroke-width="1"/>
<rect x="327.85" y="507.96" width="5.10" height="5.10" fill="#858585"/>
<text x="147.00" y="517.67" font-size="6.9" text-anchor="end" fill="#262626" color="#262626" dominant-baseline="central" textLength="41.40" lengthAdjust="spacingAndGlyphs">APOPTOSIS</text>
<line x1="150.30" y1="517.67" x2="153.50" y2="517.67" stroke="#1a1a1a" stroke-width="1.0"/>
<circle cx="240.80" cy="517.67" r="2.50" fill="#74308f" stroke="none" stroke-width="1"/>
<rect x="262.15" y="515.12" width="5.10" height="5.10" fill="#858585"/>
<text x="147.00" y="524.83" font-size="6.9" text-anchor="end" fill="#262626" color="#262626" dominant-baseline="central" textLength="63.00" lengthAdjust="spacingAndGlyphs">MITOTIC_SPINDLE</text>
<line x1="150.30" y1="524.83" x2="153.50" y2="524.83" stroke="#1a1a1a" stroke-width="1.0"/>
<circle cx="242.30" cy="524.83" r="2.50" fill="#8a278b" stroke="none" stroke-width="1"/>
<rect x="335.95" y="522.28" width="5.10" height="5.10" fill="#858585"/>
<text x="147.00" y="531.98" font-size="6.9" text-anchor="end" fill="#262626" color="#262626" dominant-baseline="central" textLength="61.50" lengthAdjust="spacingAndGlyphs">APICAL_SURFACE</text>
<line x1="150.30" y1="531.98" x2="153.50" y2="531.98" stroke="#1a1a1a" stroke-width="1.0"/>
<circle cx="242.90" cy="531.98" r="2.50" fill="#8a278b" stroke="none" stroke-width="1"/>
<rect x="262.65" y="529.43" width="5.10" height="5.10" fill="#858585"/>
<text x="147.00" y="539.14" font-size="6.9" text-anchor="end" fill="#262626" color="#262626" dominant-baseline="central" textLength="86.90" lengthAdjust="spacingAndGlyphs">HEDGEHOG_SIGNALING</text>
<line x1="150.30" y1="539.14" x2="153.50" y2="539.14" stroke="#1a1a1a" stroke-width="1.0"/>
<circle cx="243.50" cy="539.14" r="2.50" fill="#8a278b" stroke="none" stroke-width="1"/>
<rect x="272.85" y="536.59" width="5.10" height="5.10" fill="#858585"/>
<text x="147.00" y="546.30" font-size="6.9" text-anchor="end" fill="#262626" color="#262626" dominant-baseline="central" textLength="51.50" lengthAdjust="spacingAndGlyphs">COMPLEMENT</text>
<line x1="150.30" y1="546.30" x2="153.50" y2="546.30" stroke="#1a1a1a" stroke-width="1.0"/>
<circle cx="246.20" cy="546.30" r="2.50" fill="#4e3e98" stroke="none" stroke-width="1"/>
<rect x="250.85" y="543.75" width="5.10" height="5.10" fill="#858585"/>
<text x="147.00" y="553.46" font-size="6.9" text-anchor="end" fill="#262626" color="#262626" dominant-baseline="central" textLength="63.90" lengthAdjust="spacingAndGlyphs">MYC_TARGETS_V1</text>
<line x1="150.30" y1="553.46" x2="153.50" y2="553.46" stroke="#1a1a1a" stroke-width="1.0"/>
<rect x="257.95" y="550.91" width="5.10" height="5.10" fill="#858585"/>
<circle cx="384.30" cy="553.46" r="2.50" fill="#e3051b" stroke="none" stroke-width="1"/>
<text x="147.00" y="560.61" font-size="6.9" text-anchor="end" fill="#262626" color="#262626" dominant-baseline="central" textLength="109.10" lengthAdjust="spacingAndGlyphs">OXIDATIVE_PHOSPHORYLATION</text>
<line x1="150.30" y1="560.61" x2="153.50" y2="560.61" stroke="#1a1a1a" stroke-width="1.0"/>
<rect x="326.55" y="558.06" width="5.10" height="5.10" fill="#858585"/>
<circle cx="380.20" cy="560.61" r="2.50" fill="#e3051b" stroke="none" stroke-width="1"/>
<text x="147.00" y="567.77" font-size="6.9" text-anchor="end" fill="#262626" color="#262626" dominant-baseline="central" textLength="90.40" lengthAdjust="spacingAndGlyphs">FATTY_ACID_METABOLISM</text>
<line x1="150.30" y1="567.77" x2="153.50" y2="567.77" stroke="#1a1a1a" stroke-width="1.0"/>
<rect x="330.55" y="565.22" width="5.10" height="5.10" fill="#858585"/>
<circle cx="347.90" cy="567.77" r="2.50" fill="#8a278b" stroke="none" stroke-width="1"/>
<text x="147.00" y="574.93" font-size="6.9" text-anchor="end" fill="#262626" color="#262626" dominant-baseline="central" textLength="44.20" lengthAdjust="spacingAndGlyphs">DNA_REPAIR</text>
<line x1="150.30" y1="574.93" x2="153.50" y2="574.93" stroke="#1a1a1a" stroke-width="1.0"/>
<rect x="322.45" y="572.38" width="5.10" height="5.10" fill="#858585"/>
<circle cx="346.30" cy="574.93" r="2.50" fill="#74308f" stroke="none" stroke-width="1"/>
<text x="147.00" y="582.08" font-size="6.9" text-anchor="end" fill="#262626" color="#262626" dominant-baseline="central" textLength="48.60" lengthAdjust="spacingAndGlyphs">PEROXISOME</text>
<line x1="150.30" y1="582.08" x2="153.50" y2="582.08" stroke="#1a1a1a" stroke-width="1.0"/>
<rect x="324.35" y="579.53" width="5.10" height="5.10" fill="#858585"/>
<circle cx="344.40" cy="582.08" r="2.50" fill="#5a3996" stroke="none" stroke-width="1"/>
<text x="147.00" y="589.24" font-size="6.9" text-anchor="end" fill="#262626" color="#262626" dominant-baseline="central" textLength="83.80" lengthAdjust="spacingAndGlyphs">ALLOGRAFT_REJECTION</text>
<line x1="150.30" y1="589.24" x2="153.50" y2="589.24" stroke="#1a1a1a" stroke-width="1.0"/>
<rect x="217.05" y="586.69" width="5.10" height="5.10" fill="#e3051b"/>
<circle cx="253.00" cy="589.24" r="2.50" fill="#858585" stroke="none" stroke-width="1"/>
<text x="147.00" y="596.40" font-size="6.9" text-anchor="end" fill="#262626" color="#262626" dominant-baseline="central" textLength="119.50" lengthAdjust="spacingAndGlyphs">INTERFERON_GAMMA_RESPONSE</text>
<line x1="150.30" y1="596.40" x2="153.50" y2="596.40" stroke="#1a1a1a" stroke-width="1.0"/>
<rect x="232.55" y="593.85" width="5.10" height="5.10" fill="#bf106f"/>
<circle cx="261.30" cy="596.40" r="2.50" fill="#858585" stroke="none" stroke-width="1"/>
<text x="147.00" y="603.55" font-size="6.9" text-anchor="end" fill="#262626" color="#262626" dominant-baseline="central" textLength="114.20" lengthAdjust="spacingAndGlyphs">WNT_BETA_CATENIN_SIGNALING</text>
<line x1="150.30" y1="603.55" x2="153.50" y2="603.55" stroke="#1a1a1a" stroke-width="1.0"/>
<rect x="238.65" y="601.00" width="5.10" height="5.10" fill="#74308f"/>
<circle cx="260.00" cy="603.55" r="2.50" fill="#858585" stroke="none" stroke-width="1"/>
<text x="147.00" y="610.71" font-size="6.9" text-anchor="end" fill="#262626" color="#262626" dominant-baseline="central" textLength="55.90" lengthAdjust="spacingAndGlyphs">ANGIOGENESIS</text>
<line x1="150.30" y1="610.71" x2="153.50" y2="610.71" stroke="#1a1a1a" stroke-width="1.0"/>
<rect x="241.15" y="608.16" width="5.10" height="5.10" fill="#74308f"/>
<circle cx="271.40" cy="610.71" r="2.50" fill="#858585" stroke="none" stroke-width="1"/>
<text x="147.00" y="617.87" font-size="6.9" text-anchor="end" fill="#262626" color="#262626" dominant-baseline="central" textLength="115.60" lengthAdjust="spacingAndGlyphs">INTERFERON_ALPHA_RESPONSE</text>
<line x1="150.30" y1="617.87" x2="153.50" y2="617.87" stroke="#1a1a1a" stroke-width="1.0"/>
<rect x="244.15" y="615.32" width="5.10" height="5.10" fill="#4e3e98"/>
<circle cx="333.10" cy="617.87" r="2.50" fill="#858585" stroke="none" stroke-width="1"/>
<text x="147.00" y="625.03" font-size="6.9" text-anchor="end" fill="#262626" color="#262626" dominant-baseline="central" textLength="67.20" lengthAdjust="spacingAndGlyphs">G2M_CHECKPOINT</text>
<line x1="150.30" y1="625.03" x2="153.50" y2="625.03" stroke="#1a1a1a" stroke-width="1.0"/>
<circle cx="257.70" cy="625.03" r="2.50" fill="#858585" stroke="none" stroke-width="1"/>
<rect x="359.35" y="622.48" width="5.10" height="5.10" fill="#e3051b"/>
<text x="147.00" y="632.18" font-size="6.9" text-anchor="end" fill="#262626" color="#262626" dominant-baseline="central" textLength="75.90" lengthAdjust="spacingAndGlyphs">KRAS_SIGNALING_DN</text>
<line x1="150.30" y1="632.18" x2="153.50" y2="632.18" stroke="#1a1a1a" stroke-width="1.0"/>
<circle cx="259.00" cy="632.18" r="2.50" fill="#858585" stroke="none" stroke-width="1"/>
<rect x="343.25" y="629.63" width="5.10" height="5.10" fill="#4e3e98"/>
<text x="147.00" y="639.34" font-size="6.9" text-anchor="end" fill="#262626" color="#262626" dominant-baseline="central" textLength="70.20" lengthAdjust="spacingAndGlyphs">HEME_METABOLISM</text>
<line x1="150.30" y1="639.34" x2="153.50" y2="639.34" stroke="#1a1a1a" stroke-width="1.0"/>
<circle cx="229.30" cy="639.34" r="2.50" fill="#e3051b" stroke="none" stroke-width="1"/>
<rect x="421.55" y="636.79" width="5.10" height="5.10" fill="#e3051b"/>
<text x="147.00" y="646.50" font-size="6.9" text-anchor="end" fill="#262626" color="#262626" dominant-baseline="central" textLength="63.90" lengthAdjust="spacingAndGlyphs">MYC_TARGETS_V2</text>
<line x1="150.30" y1="646.50" x2="153.50" y2="646.50" stroke="#1a1a1a" stroke-width="1.0"/>
<rect x="223.85" y="643.95" width="5.10" height="5.10" fill="#e3051b"/>
<circle cx="384.80" cy="646.50" r="2.50" fill="#e3051b" stroke="none" stroke-width="1"/>
<rect x="153.50" y="442.00" width="283.40" height="208.50" fill="none" stroke="#1a1a1a" stroke-width="1.1"/>
<line x1="215.50" y1="650.50" x2="215.50" y2="653.30" stroke="#1a1a1a" stroke-width="1.0"/>
<text x="215.50" y="660.00" font-size="7" text-anchor="middle" fill="#3a3a3a" color="#3a3a3a" dominant-baseline="central">−2.5</text>
<line x1="294.50" y1="650.50" x2="294.50" y2="653.30" stroke="#1a1a1a" stroke-width="1.0"/>
<text x="294.50" y="660.00" font-size="7" text-anchor="middle" fill="#3a3a3a" color="#3a3a3a" dominant-baseline="central">0.0</text>
<line x1="373.50" y1="650.50" x2="373.50" y2="653.30" stroke="#1a1a1a" stroke-width="1.0"/>
<text x="373.50" y="660.00" font-size="7" text-anchor="middle" fill="#3a3a3a" color="#3a3a3a" dominant-baseline="central">2.5</text>
<text x="243.00" y="676.60" font-size="8.8" text-anchor="start" fill="#262626" color="#262626" textLength="104.00" lengthAdjust="spacingAndGlyphs" style="stroke-width:0.35px">Normalized enrichment score (NES)</text>
<text x="449.10" y="501.30" font-size="6.85" text-anchor="start" fill="#262626" color="#262626" dominant-baseline="central">Comparison</text>
<circle cx="451.80" cy="512.70" r="2.60" fill="#000" stroke="none" stroke-width="1"/>
<text x="458.90" y="512.70" font-size="6.8" text-anchor="start" fill="#262626" color="#262626" dominant-baseline="central">In vitro generated</text>
<text x="458.90" y="520.60" font-size="6.8" text-anchor="start" fill="#262626" color="#262626" dominant-baseline="central">BasoE</text>
<rect x="448.90" y="528.70" width="5.80" height="5.80" fill="#000"/>
<text x="458.90" y="531.60" font-size="6.8" text-anchor="start" fill="#262626" color="#262626" dominant-baseline="central">In vivo generated</text>
<text x="458.90" y="540.70" font-size="6.8" text-anchor="start" fill="#262626" color="#262626" dominant-baseline="central">erythroblast</text>
<text x="449.50" y="573.20" font-size="6.9" fill="#262626" dominant-baseline="central">−log<tspan font-size="4.4" dy="1.8">10</tspan><tspan dy="-1.8">(FDR)</tspan></text>
<defs><linearGradient id="g460583" x1="0" y1="0" x2="0" y2="1"><stop offset="0" stop-color="#ee0a1e"/><stop offset="0.28" stop-color="#dc0874"/><stop offset="0.55" stop-color="#a81d93"/><stop offset="0.8" stop-color="#6b35a5"/><stop offset="1" stop-color="#463c95"/></linearGradient></defs>
<rect x="460.60" y="583.80" width="9.00" height="29.60" fill="url(#g460583)"/>
<text x="472.80" y="584.60" font-size="7" text-anchor="start" fill="#262626" color="#262626" dominant-baseline="central">5</text>
<text x="472.80" y="592.50" font-size="7" text-anchor="start" fill="#262626" color="#262626" dominant-baseline="central">4</text>
<text x="472.80" y="600.30" font-size="7" text-anchor="start" fill="#262626" color="#262626" dominant-baseline="central">3</text>
<text x="472.80" y="608.20" font-size="7" text-anchor="start" fill="#262626" color="#262626" dominant-baseline="central">2</text>
<rect x="0.5" y="0.5" width="519" height="686" fill="none" stroke="#3a3a3a" stroke-width="1"/>
</svg>
</body></html>
